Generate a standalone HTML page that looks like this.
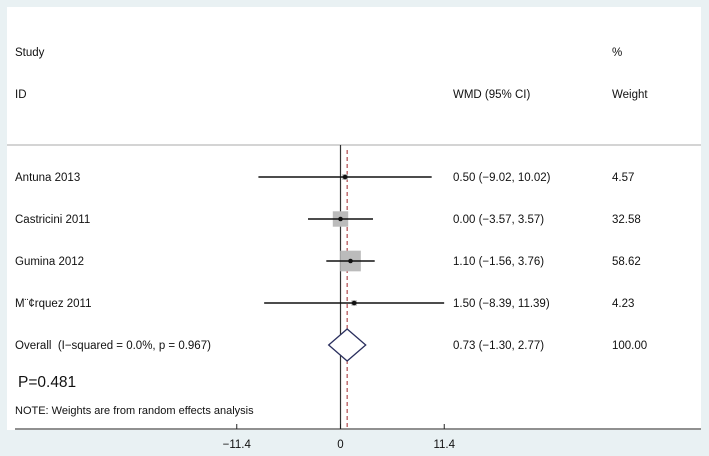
<!DOCTYPE html>
<html><head><meta charset="utf-8"><style>
body{margin:0;background:#e9f1f3;}
svg{display:block;font-family:"Liberation Sans",sans-serif;}
</style></head><body>
<svg width="709" height="456" viewBox="0 0 709 456">
<rect x="0" y="0" width="709" height="456" fill="#e9f1f3"/>
<rect x="7" y="7" width="694" height="423" fill="#fff"/>
<g font-size="11.5" fill="#111">
<text x="15" y="56">Study</text>
<text x="15" y="98">ID</text>
<text x="453" y="98">WMD (95% CI)</text>
<text x="612" y="56">%</text>
<text x="612" y="98">Weight</text>
</g>
<line x1="7" y1="145" x2="701" y2="145" stroke="#aaa" stroke-width="1"/>
<g id="marks"></g>
<text x="18" y="387" font-size="15.5" fill="#111">P=0.481</text>
<text x="15" y="414" font-size="11" fill="#111">NOTE: Weights are from random effects analysis</text>
<line x1="15" y1="429" x2="701" y2="429" stroke="#222" stroke-width="1"/>
<g id="axis"></g>
</svg>
<script>
const studies=["Antuna 2013","Castricini 2011","Gumina 2012","M\u00a8\u00a2rquez 2011"];
const est=[0.50,0.00,1.10,1.50];
const lo=[-9.02,-3.57,-1.56,-8.39];
const hi=[10.02,3.57,3.76,11.39];
const weights=[4.57,32.58,58.62,4.23];
const overall=[0.73,-1.30,2.77];
const overallLabel="Overall\u00a0\u00a0(I\u2212squared = 0.0%, p = 0.967)";
const ticks=[-11.4,0,11.4];
const tickLabels=["\u221211.4","0","11.4"];
const x0=340.5, sc=9.1;
const X=v=>x0+v*sc;
const rowY=i=>177+i*42;
const NS="http://www.w3.org/2000/svg";
const g=document.getElementById('marks');
function mk(t,a,p){const e=document.createElementNS(NS,t);for(const k in a)e.setAttribute(k,a[k]);(p||g).appendChild(e);return e;}
const zl=mk('line',{x1:X(0),y1:145,x2:X(0),y2:429,stroke:'#333','stroke-width':1.2});


const dl=mk('line',{x1:X(overall[0]),y1:150,x2:X(overall[0]),y2:429,stroke:'#a0262b','stroke-width':1,'stroke-dasharray':'4,3'});


const fmt=v=>(v<0?'\u2212':'')+Math.abs(v).toFixed(2);
studies.forEach((s,i)=>{
 const y=rowY(i);
 const sz=Math.max(4,Math.sqrt(weights[i])*2.7);
 const sq=mk('rect',{x:X(est[i])-sz/2,y:y-sz/2,width:sz,height:sz,fill:'#bbb'});
 
 
 const ci=mk('line',{x1:X(lo[i]),y1:y,x2:X(hi[i]),y2:y,stroke:'#111','stroke-width':1.4});
 
 
 const pt=mk('circle',{cx:X(est[i]),cy:y,r:2.3,fill:'#111'});
 
 
 const l=mk('text',{x:15,y:y+4,'font-size':11.5,fill:'#111'});l.textContent=s;
 
 
 const w=mk('text',{x:453,y:y+4,'font-size':11.5,fill:'#111'});w.textContent=est[i].toFixed(2)+' ('+fmt(lo[i])+', '+fmt(hi[i])+')';
 
 
 const p=mk('text',{x:612,y:y+4,'font-size':11.5,fill:'#111'});p.textContent=weights[i].toFixed(2);
 
 
});
const oy=rowY(4);
const dm=mk('polygon',{points:`${X(overall[1])},${oy} ${X(overall[0])},${oy-16} ${X(overall[2])},${oy} ${X(overall[0])},${oy+16}`,fill:'#fff',stroke:'#2a2f5e','stroke-width':1.3});


const ol=mk('text',{x:15,y:oy+4,'font-size':11.5,fill:'#111'});ol.textContent=overallLabel;


const ow=mk('text',{x:453,y:oy+4,'font-size':11.5,fill:'#111'});ow.textContent=overall[0].toFixed(2)+' ('+fmt(overall[1])+', '+fmt(overall[2])+')';


const ot=mk('text',{x:612,y:oy+4,'font-size':11.5,fill:'#111'});
ot.textContent='100.00';


const ax=document.getElementById('axis');
ticks.forEach((t,i)=>{
 const tk=mk('line',{x1:X(t),y1:429,x2:X(t),y2:424,stroke:'#222'},ax);
 
 
 const tl=mk('text',{x:X(t),y:448,'font-size':11.5,fill:'#111','text-anchor':'middle'},ax);tl.textContent=tickLabels[i];
 
 
});
</script>
</body></html>
